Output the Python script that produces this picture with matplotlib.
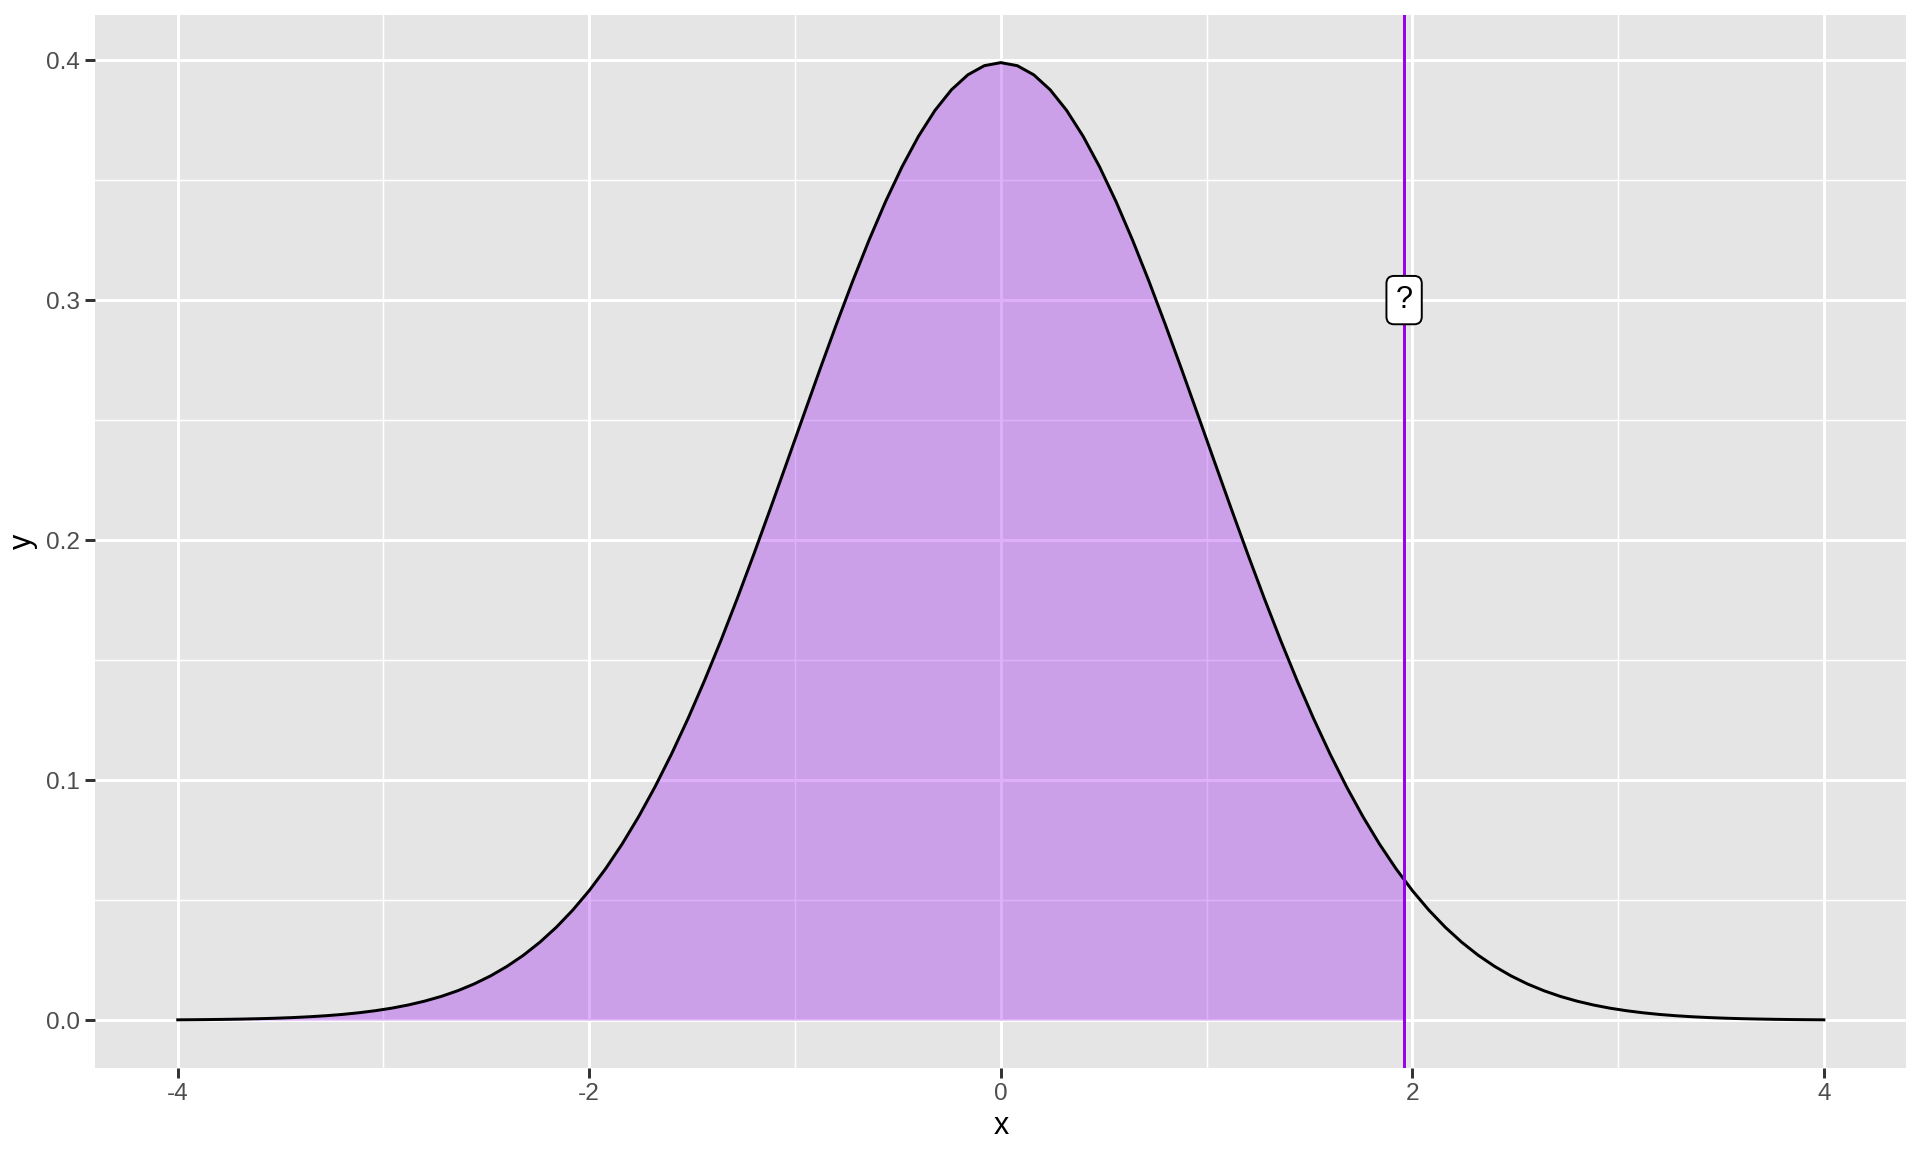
import numpy as np
import matplotlib.pyplot as plt

plt.rcParams['font.family'] = ['Liberation Sans', 'DejaVu Sans']

# density curve, 101 points from -4 to 4
x_vals = np.linspace(-4, 4, 101)
y_vals = [
    0.00013, 0.00018, 0.00025, 0.00034, 0.00046, 0.00061, 0.00081, 0.00107, 0.00141, 0.00184,
    0.00238, 0.00307, 0.00393, 0.00499, 0.00631, 0.00792, 0.00987, 0.01223, 0.01506, 0.01842,
    0.02239, 0.02704, 0.03246, 0.03871, 0.04587, 0.05399, 0.06316, 0.07341, 0.08478, 0.09728,
    0.11092, 0.12566, 0.14146, 0.15822, 0.17585, 0.19419, 0.21307, 0.23229, 0.25164, 0.27086,
    0.28969, 0.30785, 0.32506, 0.34105, 0.35553, 0.36827, 0.37903, 0.38762, 0.39387, 0.39767,
    0.39894,
    0.39767, 0.39387, 0.38762, 0.37903, 0.36827, 0.35553, 0.34105, 0.32506, 0.30785, 0.28969,
    0.27086, 0.25164, 0.23229, 0.21307, 0.19419, 0.17585, 0.15822, 0.14146, 0.12566, 0.11092,
    0.09728, 0.08478, 0.07341, 0.06316, 0.05399, 0.04587, 0.03871, 0.03246, 0.02704, 0.02239,
    0.01842, 0.01506, 0.01223, 0.00987, 0.00792, 0.00631, 0.00499, 0.00393, 0.00307, 0.00238,
    0.00184, 0.00141, 0.00107, 0.00081, 0.00061, 0.00046, 0.00034, 0.00025, 0.00018, 0.00013,
]
cutoff_x = 1.96
cutoff_y = 0.05845
label_y = 0.3
label_text = "?"

x_ticks = [-4, -2, 0, 2, 4]
y_ticks = [0.0, 0.1, 0.2, 0.3, 0.4]

y_vals = np.array(y_vals)
# shaded area: curve up to the cutoff
mask = x_vals <= cutoff_x
fill_x = np.append(x_vals[mask], cutoff_x)
fill_y = np.append(y_vals[mask], cutoff_y)

fig = plt.figure(figsize=(9.6, 5.76), dpi=200)
ax = fig.add_axes([0.0497, 0.0729, 0.9431, 0.9143])
ax.set_facecolor('#E5E5E5')

ax.set_xlim(-4.4, 4.4)
ax.set_ylim(-0.01995, 0.41889)
ax.set_xticks(x_ticks)
ax.set_xticklabels([str(t) for t in x_ticks])
ax.set_yticks(y_ticks)
ax.set_yticklabels(['%.1f' % t for t in y_ticks])
ax.set_xticks([-3, -1, 1, 3], minor=True)
ax.set_yticks([0.05, 0.15, 0.25, 0.35], minor=True)

ax.grid(which='major', color='white', linewidth=1.07)
ax.grid(which='minor', color='white', linewidth=0.53)
ax.set_axisbelow(True)
for s in ax.spines.values():
    s.set_visible(False)
ax.tick_params(which='major', length=3.5, width=1.07, color='#333333',
               labelsize=8.8, labelcolor='#4D4D4D', pad=2)
ax.tick_params(which='minor', length=0)

ax.fill_between(fill_x, 0, fill_y, color='#A020F0', alpha=0.35, linewidth=0, zorder=2)
ax.plot(x_vals, y_vals, color='black', linewidth=1.07, zorder=3)
ax.axvline(cutoff_x, color='#9400F0', linewidth=1.07, zorder=4)
ax.text(cutoff_x, label_y, label_text, ha='center', va='center', fontsize=11, zorder=5,
        bbox=dict(boxstyle='round,pad=0.3,rounding_size=0.25', facecolor='white',
                  edgecolor='black', linewidth=0.7))

ax.set_xlabel('x', fontsize=11, labelpad=2)
ax.set_ylabel('y', fontsize=11, labelpad=3)

fig.savefig('out.png', dpi=200)
